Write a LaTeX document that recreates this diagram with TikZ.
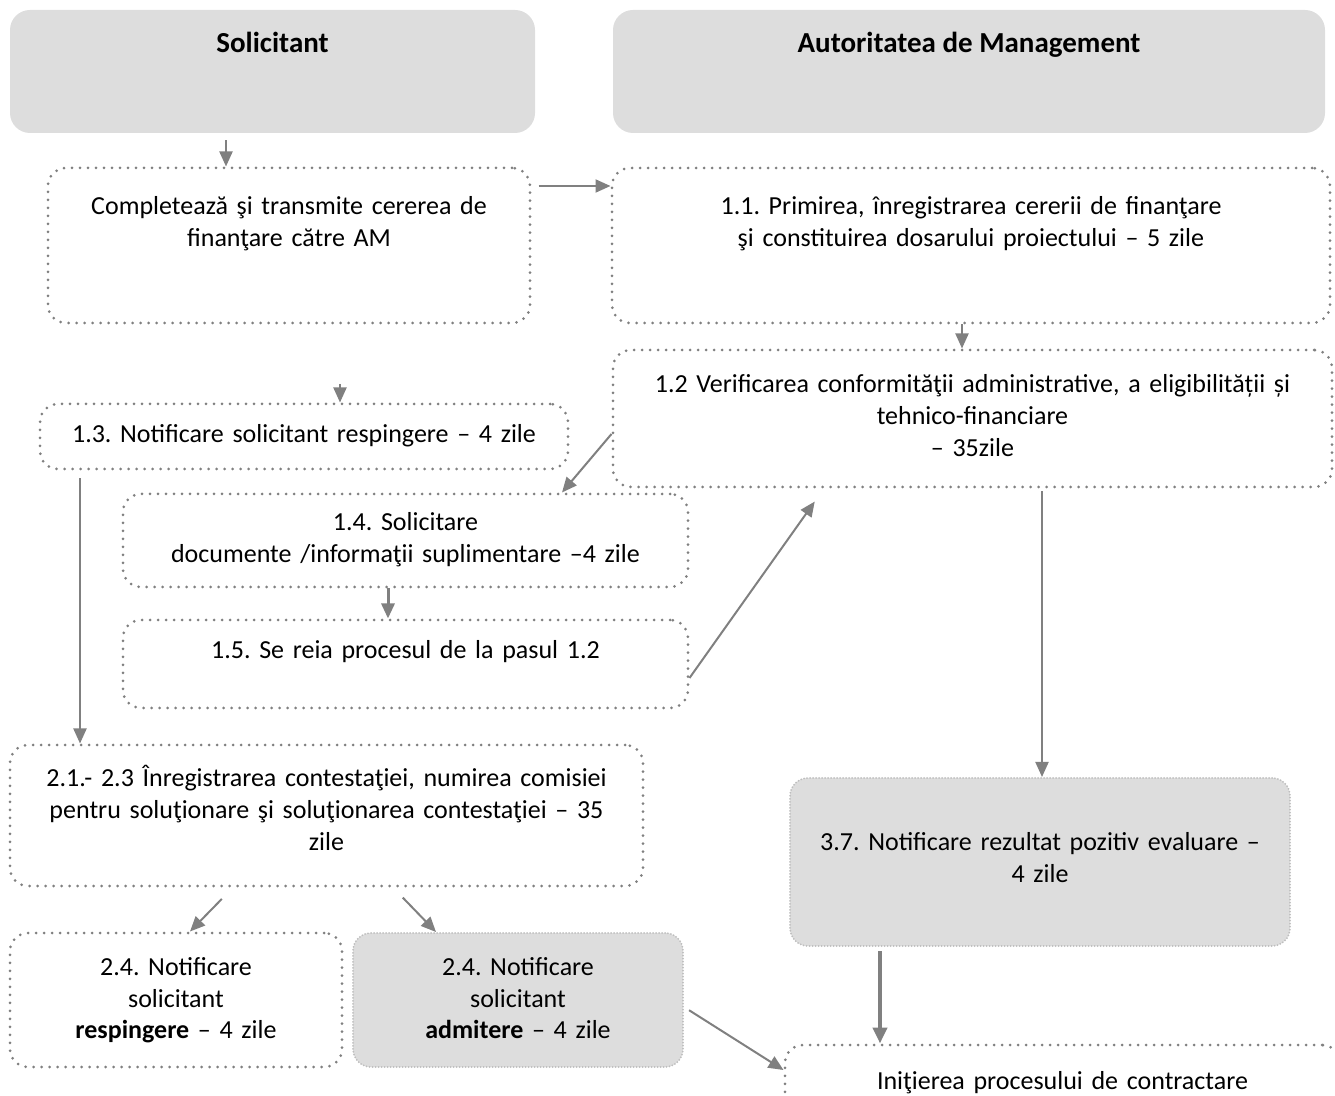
\documentclass[tikz,border=0pt]{standalone}
\usepackage{fontspec}
\setmainfont{Carlito}
\frenchspacing
\usetikzlibrary{arrows.meta}
\definecolor{dotgray}{RGB}{128,128,128}
\definecolor{arrgray}{RGB}{128,128,128}
\definecolor{fillgray}{RGB}{221,221,221}
\definecolor{softgray}{RGB}{190,190,190}

\begin{document}
\begin{tikzpicture}
  [x=0.5pt, y=-0.5pt,
   every node/.style={font=\fontsize{13}{16}\selectfont, inner sep=0pt, anchor=base},
   hdr/.style={fill=fillgray, rounded corners=10pt, font=\fontsize{14.5}{16}\selectfont\bfseries},
   stepbox/.style={draw=dotgray, line width=1.5pt, dash pattern=on 0pt off 4pt,
                   line cap=round, rounded corners=9pt, align=center},
   shadedbox/.style={stepbox, draw=softgray, fill=fillgray, line width=1pt,
                     dash pattern=on 0pt off 1.5pt},
   arr/.style={draw=arrgray, line width=1pt, -{Triangle[length=7.5pt,width=6.5pt]}}]
  \useasboundingbox (0,0) rectangle (1335,1096);
  \clip (0,0) rectangle (1335,1096);

  % headers
  \node[hdr, minimum width=262.5pt, text height=21.5pt, text depth=40pt] (solic) at (272.5,53) {Solicitant};
  \node[hdr, minimum width=356pt, text height=21.5pt, text depth=40pt] (autor) at (969,53) {Autoritatea de Management};

  % steps
  \node[stepbox, minimum width=241pt, text width=233pt, text height=23.5pt, text depth=54pt] (cerere) at (289,215)
    {Completează şi transmite cererea de\\ finanţare către AM};
  \node[stepbox, minimum width=359pt, text width=350pt, text height=23.5pt, text depth=54pt] (primire) at (971,215)
    {1.1. Primirea, înregistrarea cererii de finanţare\\ şi constituirea dosarului proiectului – 5 zile};
  \node[stepbox, minimum width=359.5pt, text width=350pt, text height=21.5pt, text depth=47pt] (verif) at (972.5,393)
    {1.2 Verificarea conformităţii administrative, a eligibilității și\\ tehnico-financiare\\ – 35zile};
  \node[stepbox, minimum width=264pt, text width=256pt, text height=19.5pt, text depth=13pt] (notif) at (304,443)
    {1.3. Notificare solicitant respingere – 4 zile};
  \node[stepbox, minimum width=282.5pt, text width=274pt, text height=18.5pt, text depth=28pt] (solicit) at (405.5,531)
    {1.4. Solicitare\\ documente /informaţii suplimentare –4 zile};
  \node[stepbox, minimum width=282.5pt, text width=274pt, text height=19.5pt, text depth=24.5pt] (reia) at (405.5,659)
    {1.5. Se reia procesul de la pasul 1.2};
  \node[stepbox, minimum width=316.5pt, text width=308pt, text height=21pt, text depth=49.5pt] (contest) at (326.5,787)
    {2.1.- 2.3 Înregistrarea contestaţiei, numirea comisiei\\ pentru soluţionare şi soluţionarea contestaţiei – 35\\ zile};
  \node[shadedbox, minimum width=250pt, text width=242pt, text height=36pt, text depth=48pt] (pozitiv) at (1040,850)
    {3.7. Notificare rezultat pozitiv evaluare –\\ 4 zile};
  \node[stepbox, minimum width=166pt, text width=158pt, text height=21pt, text depth=46pt] (resp) at (176,975)
    {2.4. Notificare\\ solicitant\\ \textbf{respingere} – 4 zile};
  \node[shadedbox, minimum width=165pt, text width=157pt, text height=21pt, text depth=46pt] (adm) at (518,975)
    {2.4. Notificare\\ solicitant\\ \textbf{admitere} – 4 zile};
  \node[stepbox, minimum width=277.5pt, text width=270pt, text height=22pt, text depth=30.5pt] (contract) at (1062.5,1089)
    {Iniţierea procesului de contractare};

  \coordinate (sus) at (340,384);

  % arrows
  \draw[arr, shorten <=3.5pt] (solic.south -| 226,0) -- (cerere.north -| 226,0);
  \draw[arr, shorten <=3.5pt] (cerere.east |- 0,186) -- (primire.west |- 0,186);
  \draw[arr] (primire.south -| 962,0) -- (verif.north -| 962,0);
  \draw[arr] (sus) -- (notif.north -| sus);
  \draw[arr] (verif.west |- 0,434) -- (solicit.north -| 562,0);
  \draw[arr, line width=1.5pt] (solicit.south -| 388,0) -- (reia.north -| 388,0);
  \draw[arr, shorten >=8pt] (reia.east |- 0,678) -- (verif.south -| 824,0);
  \draw[arr, shorten <=4pt] (notif.south -| 80,0) -- (contest.north -| 80,0);
  \draw[arr, shorten <=1.5pt] (verif.south -| 1042,0) -- (pozitiv.north -| 1042,0);
  \draw[arr, shorten <=8pt] (contest.south -| 233,0) -- (resp.north -| 190,0);
  \draw[arr, shorten <=7pt] (contest.south -| 393,0) -- (adm.north -| 436,0);
  \draw[arr, shorten <=3pt] (adm.east |- 0,1007) -- (contract.west |- 0,1070);
  \draw[arr, line width=2pt, -{Triangle[length=8pt,width=7pt]}, shorten <=2pt]
    (pozitiv.south -| 880,0) -- (contract.north -| 880,0);
\end{tikzpicture}
\end{document}
